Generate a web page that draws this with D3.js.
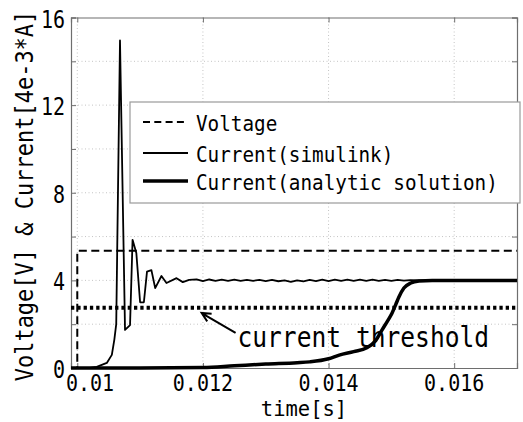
<!DOCTYPE html>
<html><head><meta charset="utf-8">
<script src="https://cdn.jsdelivr.net/npm/d3@7"></script>
<style>body{margin:0;background:#fff}svg{display:block}</style>
</head><body>
<script>
// ---- data ----
const voltageT = [0.0099, 0.01, 0.01, 0.017];
const voltageV = [0, 0, 5.35, 5.35];
const thresholdValue = 2.75;
const simT = [0.0099,0.0102,0.01031,0.01047,0.01055,0.01059,0.01062,0.01068,0.01076,0.01084,0.01088,0.01094,0.01100,0.01106,0.01111,0.01118,0.01124,0.01134,0.01142,0.01158,0.01168,0.01178,
  0.0119,0.0120,0.0121,0.0122,0.0123,0.0124,0.0125,0.0126,0.0127,0.0128,0.0129,0.0130,0.0131,0.0132,0.0133,0.0134,0.0135,0.0136,0.0137,0.0138,0.0139,0.0140,0.0141,0.0142,0.0143,0.0144,0.0145,0.0146,0.0147,0.0148,0.0149,0.0150,0.0151,0.0152,0.0153,0.0155,0.0170];
const simI = [0,0,0.05,0.23,0.6,1.3,2.0,14.95,1.74,1.96,5.85,5.25,3.0,3.0,4.4,4.47,3.65,4.2,3.88,4.1,3.92,4.02,
  4.05,3.97,4.04,3.98,4.03,3.98,4.03,3.98,4.02,3.98,4.02,3.97,4.02,3.96,4.0,3.93,4.0,3.95,4.02,3.97,4.03,3.97,4.03,3.98,4.03,3.98,4.03,3.98,4.03,3.98,4.02,3.98,4.02,3.99,4.01,4.0,4.0];
const anaT = [0.0099,0.0110,0.0120,0.0125,0.0130,0.0135,0.0137,0.0140,0.01417,0.0144,0.01461,0.01475,0.01485,0.01495,0.01501,0.01507,0.01512,0.0152,0.01531,0.01544,0.01565,0.0170];
const anaI = [0,0,0.02,0.1,0.18,0.24,0.28,0.42,0.59,0.75,0.92,1.25,1.73,2.2,2.5,2.9,3.24,3.65,3.88,3.97,4.0,4.0];
const xTicks = [0.010, 0.012, 0.014, 0.016];
const xTickLabels = ["0.01", "0.012", "0.014", "0.016"];
const yTicks = [0, 4, 8, 12, 16];
const yGrid = [0, 2, 4, 6, 8, 10, 12, 14, 16];
const legendLabels = ["Voltage", "Current(simulink)", "Current(analytic solution)"];
const xLabel = "time[s]";
const yLabel = "Voltage[V] & Current[4e-3*A]";
const annotationText = "current threshold";
const annotationTip = [0.01198, 2.51];
const annotationTail = [0.01252, 1.6];
const annotationTextPos = [0.01255, 0.96];

// ---- layout ----
const W = 523, H = 422;
const L = 71, R = 517, T = 17.5, B = 368;
const FONT = "'DejaVu Sans Mono', 'Liberation Mono', monospace";
const svg = d3.select("body").append("svg").attr("width", W).attr("height", H);
svg.append("rect").attr("width", W).attr("height", H).attr("fill", "#fff");

const x = d3.scaleLinear().domain([0.0099, 0.017]).range([L, R]);
const y = d3.scaleLinear().domain([0, 16]).range([B, T]);

function txt(px, py, str, size, anchor, sy, rot) {
  const g = svg.append("g").attr("transform", `translate(${px},${py}) rotate(${rot||0}) scale(1,${sy})`);
  g.append("text").attr("x", 0).attr("y", 0).attr("font-family", FONT).attr("font-size", size)
    .attr("text-anchor", anchor).attr("fill", "#000").text(str);
  return g;
}

// grid
const grid = svg.append("g");
grid.selectAll(".gx").data(xTicks).join("line")
  .attr("x1", d => x(d)).attr("x2", d => x(d)).attr("y1", T).attr("y2", B)
  .attr("stroke", "#c4c4c4").attr("stroke-width", 1).attr("stroke-dasharray", "1,2.5");
grid.selectAll(".gy").data(yGrid.slice(1, -1)).join("line")
  .attr("y1", d => y(d)).attr("y2", d => y(d)).attr("x1", L).attr("x2", R)
  .attr("stroke", "#c4c4c4").attr("stroke-width", 1).attr("stroke-dasharray", "1,2.5");

// axes via d3 axis (ticks inside)
const axB = svg.append("g").attr("transform", `translate(0,${B})`)
  .call(d3.axisBottom(x).tickValues(xTicks).tickSize(-5).tickFormat(""));
const axT = svg.append("g").attr("transform", `translate(0,${T})`)
  .call(d3.axisTop(x).tickValues(xTicks).tickSize(-5).tickFormat(""));
const axL = svg.append("g").attr("transform", `translate(${L},0)`)
  .call(d3.axisLeft(y).tickValues(yGrid).tickSize(-5).tickFormat(""));
const axR = svg.append("g").attr("transform", `translate(${R},0)`)
  .call(d3.axisRight(y).tickValues(yGrid).tickSize(-5).tickFormat(""));
[axB, axT, axL, axR].forEach(a => {
  a.selectAll("path").attr("stroke", "#6e6e6e").attr("stroke-width", 1.2);
  a.selectAll("line").attr("stroke", "#6e6e6e");
});

// tick labels
xTicks.forEach((t, i) => {
  if (i === 0) txt(66, 391, xTickLabels[i], 20, "start", 1.15);
  else txt(x(t), 391, xTickLabels[i], 20, "middle", 1.15);
});
yTicks.forEach(v => txt(65, y(v) + 10, String(v), 20, "end", 1.2));

// axis labels
txt(304, 416, xLabel, 20.5, "middle", 1.05);
txt(33, 196, yLabel, 22, "middle", 1.12, -90);

// lines
const line = d3.line().x(d => x(d[0])).y(d => y(d[1]));
const plot = svg.append("g");
// threshold
plot.append("path").datum([[0.0099, thresholdValue], [0.017, thresholdValue]])
  .attr("d", line).attr("fill", "none").attr("stroke", "#000").attr("stroke-width", 4)
  .attr("stroke-dasharray", "3.3,3");
// voltage
plot.append("path").datum(voltageT.map((t, i) => [t, voltageV[i]]))
  .attr("d", line).attr("fill", "none").attr("stroke", "#000").attr("stroke-width", 2)
  .attr("stroke-dasharray", "8,4.5");
// simulink
plot.append("path").datum(simT.map((t, i) => [t, simI[i]]))
  .attr("d", line).attr("fill", "none").attr("stroke", "#000").attr("stroke-width", 1.8)
  .attr("stroke-linejoin", "round");
// analytic
plot.append("path").datum(anaT.map((t, i) => [t, anaI[i]]))
  .attr("d", d3.line().x(d => x(d[0])).y(d => y(d[1])).curve(d3.curveMonotoneX))
  .attr("fill", "none").attr("stroke", "#000").attr("stroke-width", 3.5);

// annotation arrow
const tip = [x(annotationTip[0]), y(annotationTip[1])];
const tail = [x(annotationTail[0]), y(annotationTail[1])];
const ang = Math.atan2(tail[1] - tip[1], tail[0] - tip[0]);
const ah = 10, spread = 0.45;
plot.append("path")
  .attr("d", `M${tail[0]},${tail[1]}L${tip[0]},${tip[1]}` +
    `M${tip[0] + ah * Math.cos(ang + spread)},${tip[1] + ah * Math.sin(ang + spread)}L${tip[0]},${tip[1]}` +
    `L${tip[0] + ah * Math.cos(ang - spread)},${tip[1] + ah * Math.sin(ang - spread)}`)
  .attr("fill", "none").attr("stroke", "#000").attr("stroke-width", 2);
txt(x(annotationTextPos[0]), y(annotationTextPos[1]), annotationText, 24.6, "start", 1.18);

// legend
const lg = svg.append("g");
lg.append("rect").attr("x", 130).attr("y", 102).attr("width", 390).attr("height", 101)
  .attr("fill", "#fff").attr("stroke", "#9a9a9a").attr("stroke-width", 1.2);
const legY = [122, 153, 181];
const legStyle = [{w: 2, dash: "7,4.3"}, {w: 1.8, dash: null}, {w: 3.5, dash: null}];
legendLabels.forEach((lab, i) => {
  lg.append("line").attr("x1", 143).attr("x2", 188).attr("y1", legY[i]).attr("y2", legY[i])
    .attr("stroke", "#000").attr("stroke-width", legStyle[i].w)
    .attr("stroke-dasharray", legStyle[i].dash);
  txt(196, legY[i] + 8.5, lab, 19.3, "start", 1.1);
});
</script>
</body></html>
